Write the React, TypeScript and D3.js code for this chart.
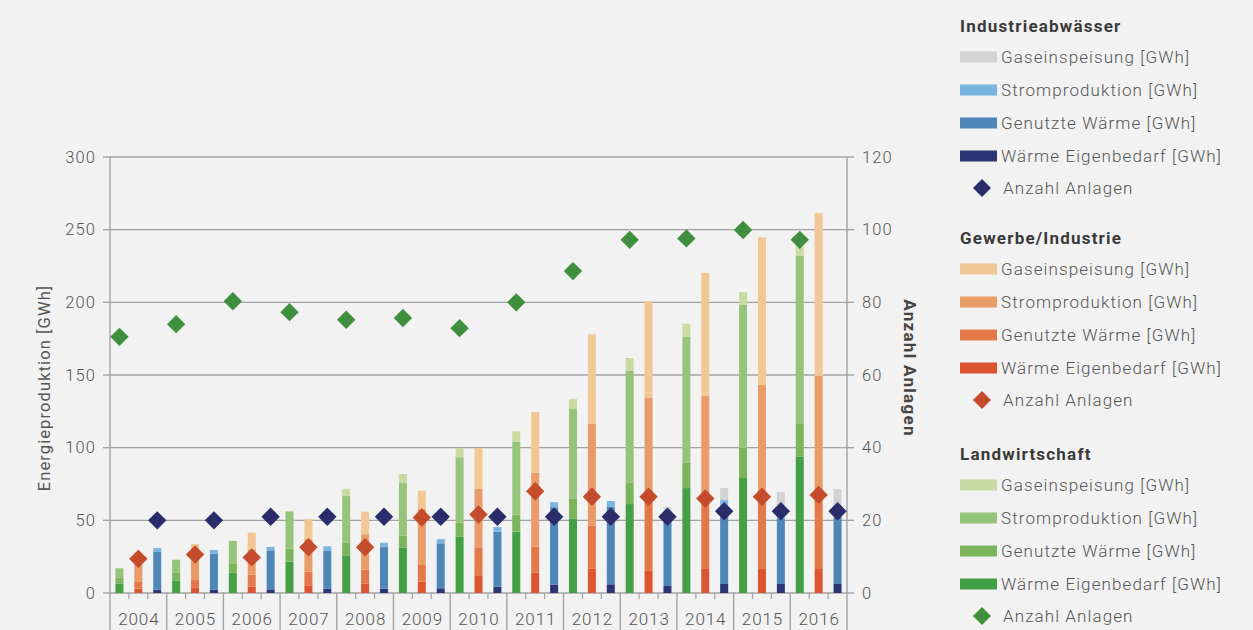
import React from 'react';
import * as d3 from 'd3';

const years = ['2004','2005','2006','2007','2008','2009','2010','2011','2012','2013','2014','2015','2016'];

// Landwirtschaft (GWh)
const landEigen = [6.6, 8.5, 14, 21.6, 25.9, 31.2, 38.7, 42.2, 51.1, 61.2, 72.2, 79.1, 93.8];
const landGenutzt = [3.9, 5.3, 6, 8.9, 8.7, 8.2, 9.7, 11.7, 13.8, 14.7, 17.5, 20.7, 22.5];
const landStrom = [6.5, 9.1, 15.8, 25.7, 32.1, 36.5, 45, 50.2, 61.7, 77.1, 86.7, 98.6, 115.6];
const landGas = [0, 0, 0, 0, 4.9, 6, 6.4, 7.1, 6.9, 8.7, 8.9, 8.6, 7.1];
const landCount = [70.5, 74, 80.3, 77.3, 75.2, 75.7, 72.9, 80, 88.6, 97.2, 97.6, 99.9, 97.2];

// Gewerbe/Industrie (GWh)
const gewEigen = [3, 3.9, 4.4, 5.3, 6.4, 7.8, 12.2, 14, 16.8, 15.1, 16.5, 16.5, 16.5];
const gewGenutzt = [4.6, 5, 8.2, 9.4, 9.6, 11.5, 18.8, 17.9, 29.5, 50.9, 48.5, 49.5, 52.1];
const gewStrom = [12.4, 19.1, 17.4, 22.3, 24.4, 38.7, 40.8, 50.9, 70, 68.4, 70.5, 77.1, 80.7];
const gewGas = [7.7, 5.7, 11.5, 13.9, 15.6, 12.4, 28, 41.7, 61.7, 66.5, 84.7, 101.6, 112.2];
const gewCount = [9.4, 10.6, 9.8, 12.6, 12.6, 20.8, 21.6, 28, 26.5, 26.5, 26, 26.5, 27];

// Industrieabwässer (GWh)
const indEigen = [2.3, 2.3, 2.5, 3, 3, 3.2, 4.4, 5.8, 6, 4.8, 6.2, 6.2, 6.2];
const indGenutzt = [25.9, 24.7, 26.4, 26.1, 28.9, 31, 37.8, 53.2, 53.5, 47.2, 50.8, 45.2, 46.3];
const indStrom = [2.8, 2.6, 2.8, 3, 2.7, 2.9, 3.2, 3.5, 3.8, 4.6, 7, 8, 8];
const indGas = [0, 0, 0, 0, 0, 0, 0, 0, 0, 2.6, 8.2, 10.1, 11.1];
const indCount = [20, 20, 21, 21, 21, 21, 21, 21, 21, 21, 22.5, 22.5, 22.5];

const leftTicks = [0, 50, 100, 150, 200, 250, 300];
const rightTicks = [0, 20, 40, 60, 80, 100, 120];
const segLabels = ['Gaseinspeisung [GWh]', 'Stromproduktion [GWh]', 'Genutzte Wärme [GWh]', 'Wärme Eigenbedarf [GWh]'];

const groups = [
  { name: 'Landwirtschaft', offset: 1, data: [landEigen, landGenutzt, landStrom, landGas], count: landCount,
    colors: ['#44a044', '#7bb45a', '#96c47b', '#c8dba3'], diamond: '#3f8f3f' },
  { name: 'Gewerbe/Industrie', offset: 3, data: [gewEigen, gewGenutzt, gewStrom, gewGas], count: gewCount,
    colors: ['#dc5530', '#e47849', '#e99c67', '#f1c796'], diamond: '#c44b2b' },
  { name: 'Industrieabwässer', offset: 5, data: [indEigen, indGenutzt, indStrom, indGas], count: indCount,
    colors: ['#2b3575', '#4d86b7', '#7ab4e0', '#d3d3d3'], diamond: '#2a2d6a' },
];

const legendOrder = [
  { g: 2, y0: 26 },
  { g: 1, y0: 238 },
  { g: 0, y0: 454 },
];

const FONT = 'Roboto, "DejaVu Sans", sans-serif';

export default function App() {
  const W = 1253, H = 630;
  const left = 110, right = 847, top = 157, bottom = 593;
  const x = d3.scaleBand<string>().domain(years).range([left, right]).paddingInner(0).paddingOuter(0);
  const y = d3.scaleLinear().domain([0, 300]).range([bottom, top]);
  const yR = d3.scaleLinear().domain([0, 120]).range([bottom, top]);
  const bw = x.bandwidth();
  const barW = 8;
  const keys = ['a', 'b', 'c', 'd'];

  const diamond = (cx: number, cy: number, r: number, fill: string, key: string) => (
    <path key={key} d={`M${cx},${cy - r}L${cx + r},${cy}L${cx},${cy + r}L${cx - r},${cy}Z`} fill={fill} />
  );

  const bars: React.ReactNode[] = [];
  const marks: React.ReactNode[] = [];
  groups.forEach((g, gi) => {
    const table = years.map((yr, i) => ({ year: yr, a: g.data[0][i], b: g.data[1][i], c: g.data[2][i], d: g.data[3][i] }));
    const series = d3.stack<any>().keys(keys)(table);
    series.forEach((s, si) => {
      s.forEach((p, i) => {
        const cx = (x(years[i]) as number) + bw * g.offset / 6;
        const h = y(p[0]) - y(p[1]);
        if (h <= 0) return;
        bars.push(<rect key={`b${gi}-${si}-${i}`} x={cx - barW / 2} y={y(p[1])} width={barW} height={h} fill={g.colors[si]} />);
      });
    });
    g.count.forEach((c, i) => {
      const cx = (x(years[i]) as number) + bw * g.offset / 6;
      marks.push(diamond(cx, yR(c), 9.2, g.diamond, `d${gi}-${i}`));
    });
  });

  const ls = 1.1;

  return (
    <svg width={W} height={H} style={{ position: 'absolute', left: 0, top: 0, fontFamily: FONT }}>
      <rect x={0} y={0} width={W} height={H} fill="#f1f2f1" />
      {leftTicks.map(t => (
        <line key={`g${t}`} x1={left} x2={right} y1={y(t)} y2={y(t)} stroke="#a3a3a3" strokeWidth={1.4} />
      ))}
      <line x1={left} x2={left} y1={top} y2={H} stroke="#a3a3a3" strokeWidth={1.4} />
      <line x1={right} x2={right} y1={top} y2={H} stroke="#a3a3a3" strokeWidth={1.4} />
      {leftTicks.map(t => (
        <g key={`lt${t}`}>
          <line x1={left - 7} x2={left} y1={y(t)} y2={y(t)} stroke="#a3a3a3" strokeWidth={1.4} />
          <text x={96} y={y(t)} dy="0.35em" textAnchor="end" fontSize={16.5} fontWeight={300} fill="#555" letterSpacing={ls}>{t}</text>
        </g>
      ))}
      {rightTicks.map(t => (
        <g key={`rt${t}`}>
          <line x1={right} x2={right + 7} y1={yR(t)} y2={yR(t)} stroke="#a3a3a3" strokeWidth={1.4} />
          <text x={862} y={yR(t)} dy="0.35em" textAnchor="start" fontSize={16.5} fontWeight={300} fill="#555" letterSpacing={ls}>{t}</text>
        </g>
      ))}
      {years.map((yr, i) => {
        const x0 = x(yr) as number;
        return (
          <g key={`x${yr}`}>
            {i > 0 && <line x1={x0} x2={x0} y1={bottom} y2={H} stroke="#a3a3a3" strokeWidth={1.4} />}
            <line x1={x0 + bw / 3} x2={x0 + bw / 3} y1={bottom} y2={bottom + 6} stroke="#a3a3a3" strokeWidth={1.2} />
            <line x1={x0 + 2 * bw / 3} x2={x0 + 2 * bw / 3} y1={bottom} y2={bottom + 6} stroke="#a3a3a3" strokeWidth={1.2} />
            <text x={x0 + bw / 2 + 0.5} y={625} textAnchor="middle" fontSize={17} fontWeight={300} fill="#555" letterSpacing={0.9}>{yr}</text>
          </g>
        );
      })}
      {bars}
      {marks}
      <text transform={`translate(50,${388}) rotate(-90)`} textAnchor="middle" fontSize={16.5} fontWeight={400} fill="#555" letterSpacing={1.1}>Energieproduktion [GWh]</text>
      <text transform={`translate(904,${368}) rotate(90)`} textAnchor="middle" fontSize={17} fontWeight={700} fill="#444" letterSpacing={1.3}>Anzahl Anlagen</text>
      {legendOrder.map(({ g, y0 }) => {
        const grp = groups[g];
        return (
          <g key={`lg${g}`}>
            <text x={960} y={y0} dy="0.35em" fontSize={17} fontWeight={700} fill="#3a3a3a" letterSpacing={1.2}>{grp.name}</text>
            {segLabels.map((lab, k) => {
              const cy = y0 + 31 + k * 33;
              return (
                <g key={`li${k}`}>
                  <rect x={960} y={cy - 5.5} width={37} height={11} fill={grp.colors[3 - k]} />
                  <text x={1001} y={cy} dy="0.35em" fontSize={17} fontWeight={300} fill="#555" letterSpacing={1.1}>{lab}</text>
                </g>
              );
            })}
            {diamond(982, y0 + 31 + 4 * 33 - 1, 9, grp.diamond, 'ld')}
            <text x={1003} y={y0 + 31 + 4 * 33 - 1} dy="0.35em" fontSize={17} fontWeight={300} fill="#555" letterSpacing={1.1}>Anzahl Anlagen</text>
          </g>
        );
      })}
    </svg>
  );
}
